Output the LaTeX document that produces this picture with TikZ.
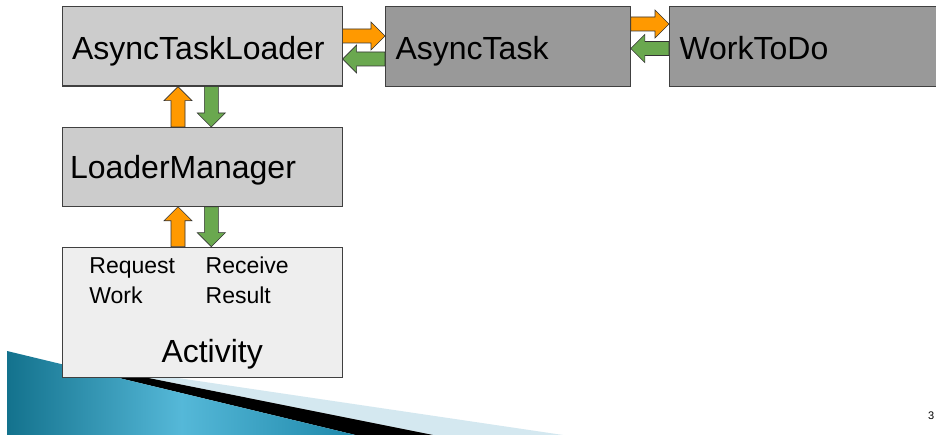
\documentclass[tikz,border=0pt]{standalone}
\usepackage{fontspec}
\setmainfont{Liberation Sans}
\usetikzlibrary{calc}
\definecolor{boxlight}{HTML}{CCCCCC}
\definecolor{boxdark}{HTML}{999999}
\definecolor{boxpale}{HTML}{EEEEEE}
\definecolor{edge}{HTML}{404040}
\definecolor{orangeA}{HTML}{FF9900}
\definecolor{greenA}{HTML}{6AA84F}
\definecolor{tealdark}{HTML}{13728D}
\definecolor{teallight}{HTML}{55B8D8}
\definecolor{tealmid}{HTML}{1E88AA}
\definecolor{paleblue}{HTML}{D4E8F0}
\newcommand\blockarrow[3]{%
  \filldraw[arrowline,fill=#1]
    ($(#2)!7pt!90:(#3)$)
    -- ($(#3)!14pt!(#2)!7pt!90:(#3)$)
    -- ($(#3)!14pt!(#2)!14pt!90:(#3)$)
    -- (#3)
    -- ($(#3)!14pt!(#2)!14pt!-90:(#3)$)
    -- ($(#3)!14pt!(#2)!7pt!-90:(#3)$)
    -- ($(#2)!7pt!-90:(#3)$)
    -- cycle;}
\begin{document}
\begin{tikzpicture}[x=1pt,y=-1pt,
  box/.style={draw=edge, line width=1.1pt, anchor=north west, inner xsep=10pt,
    inner ysep=0pt, align=left, font=\fontsize{32}{38}\selectfont,
    text height=27pt, text depth=0pt},
  arrowline/.style={draw=black!80, line width=0.6pt, line join=miter},
  bigtext/.style={anchor=base west, inner sep=0pt, font=\fontsize{32}{38}\selectfont},
  smalltext/.style={anchor=base west, inner sep=0pt, align=left, font=\fontsize{23}{29.3}\selectfont}]
\useasboundingbox (0,0) rectangle (936,435);
\fill[white] (0,0) rectangle (936,435);
\clip (0,0) rectangle (936,435);
% swoosh
\fill[paleblue] (65,361.3) -- (563,435) -- (433,435) -- cycle;
\fill[black] (65,361.3) -- (433,435) -- (355.5,435) -- (65,365) -- cycle;
\shade[left color=tealdark, right color=tealmid, middle color=teallight]
  (7,351) -- (355.5,435) -- (7,435) -- cycle;
% boxes
\node[box, fill=boxlight, minimum width=280pt, minimum height=79.5pt, text width=260pt] (atl) at (61.5,6) {AsyncTaskLoader};
\node[box, fill=boxdark, minimum width=244.7pt, minimum height=79.7pt, text width=224.7pt] (at) at (385,6) {AsyncTask};
\node[box, fill=boxdark, minimum width=290pt, minimum height=79.7pt, text width=270pt] (wtd) at (669,6) {WorkToDo};
\node[box, fill=boxlight, minimum width=280pt, minimum height=78.7pt, inner xsep=8pt, text width=264pt, text height=24pt] (lm) at (61.5,127) {LoaderManager};
\node[draw=edge, line width=1.1pt, fill=boxpale, anchor=north west, minimum width=280pt, minimum height=130.6pt, inner sep=0pt] (act) at (61.5,246.7) {};
\node[bigtext] (actlabel) at (161.3,362.3) {Activity};
\node[smalltext] (req) at (89.2,303.3) {Request\\Work};
\node[smalltext] (rec) at (205.5,303.3) {Receive\\Result};
\node[anchor=base east, inner sep=0pt, font=\fontsize{11}{13}\selectfont] (pg) at (934.5,419) {3};
% arrow end points
\coordinate (a1) at (atl.east |- 0,36);
\coordinate (b1) at (at.west |- 0,36);
\coordinate (a2) at (at.west |- 0,59);
\coordinate (b2) at (atl.east |- 0,59);
\coordinate (a3) at (at.east |- 0,24);
\coordinate (b3) at (wtd.west |- 0,24);
\coordinate (a4) at (wtd.west |- 0,48.5);
\coordinate (b4) at (at.east |- 0,48.5);
\coordinate (a5) at (lm.north -| 178,0);
\coordinate (b5) at (atl.south -| 178,0);
\coordinate (a6) at (atl.south -| 211.3,0);
\coordinate (b6) at (lm.north -| 211.3,0);
\coordinate (a7) at (act.north -| 178,0);
\coordinate (b7) at (lm.south -| 178,0);
\coordinate (a8) at (lm.south -| 211.3,0);
\coordinate (b8) at (act.north -| 211.3,0);
\blockarrow{orangeA}{a1}{b1}
\blockarrow{greenA}{a2}{b2}
\blockarrow{orangeA}{a3}{b3}
\blockarrow{greenA}{a4}{b4}
\blockarrow{orangeA}{a5}{b5}
\blockarrow{greenA}{a6}{b6}
\blockarrow{orangeA}{a7}{b7}
\blockarrow{greenA}{a8}{b8}
\end{tikzpicture}
\end{document}
